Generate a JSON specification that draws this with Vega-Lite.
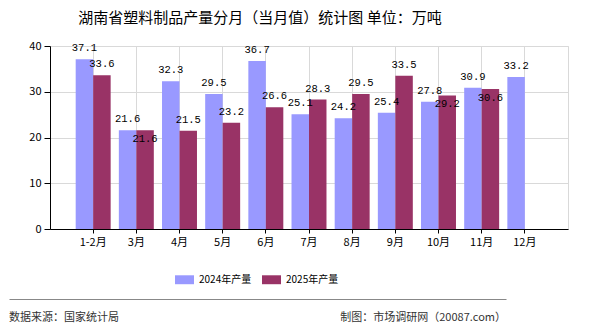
{
  "$schema": "https://vega.github.io/schema/vega-lite/v6.json",
  "background": "white",
  "padding": {"left": 9, "top": 10, "right": 0, "bottom": 0},
  "config": {"font": "Noto Sans CJK SC", "view": {"stroke": null}},
  "spacing": 51,
  "vconcat": [
    {
      "width": 518,
      "height": 183,
      "view": {"stroke": "#d9d9d9"},
      "title": {
        "text": "湖南省塑料制品产量分月（当月值）统计图 单位：万吨",
        "fontSize": 15,
        "fontWeight": "normal",
        "color": "black",
        "anchor": "middle",
        "frame": "group",
        "dx": -49,
        "offset": 14
      },
      "data": {
        "values": [
          {"month": "1-2月", "series": "2024年产量", "value": 37.1},
          {"month": "3月", "series": "2024年产量", "value": 21.6},
          {"month": "4月", "series": "2024年产量", "value": 32.3},
          {"month": "5月", "series": "2024年产量", "value": 29.5},
          {"month": "6月", "series": "2024年产量", "value": 36.7},
          {"month": "7月", "series": "2024年产量", "value": 25.1},
          {"month": "8月", "series": "2024年产量", "value": 24.2},
          {"month": "9月", "series": "2024年产量", "value": 25.4},
          {"month": "10月", "series": "2024年产量", "value": 27.8},
          {"month": "11月", "series": "2024年产量", "value": 30.9},
          {"month": "12月", "series": "2024年产量", "value": 33.2},
          {"month": "1-2月", "series": "2025年产量", "value": 33.6},
          {"month": "3月", "series": "2025年产量", "value": 21.6},
          {"month": "4月", "series": "2025年产量", "value": 21.5},
          {"month": "5月", "series": "2025年产量", "value": 23.2},
          {"month": "6月", "series": "2025年产量", "value": 26.6},
          {"month": "7月", "series": "2025年产量", "value": 28.3},
          {"month": "8月", "series": "2025年产量", "value": 29.5},
          {"month": "9月", "series": "2025年产量", "value": 33.5},
          {"month": "10月", "series": "2025年产量", "value": 29.2},
          {"month": "11月", "series": "2025年产量", "value": 30.6}
        ]
      },
      "encoding": {
        "x": {
          "field": "month",
          "type": "nominal",
          "sort": ["1-2月", "3月", "4月", "5月", "6月", "7月", "8月", "9月", "10月", "11月", "12月"],
          "scale": {"paddingInner": 0.19, "paddingOuter": 0.595},
          "axis": {
            "title": null,
            "labelAngle": 0,
            "labelFontSize": 11,
            "labelColor": "black",
            "labelPadding": 3,
            "tickColor": "black",
            "tickSize": 4,
            "domainColor": "black",
            "grid": true,
            "gridColor": "#d9d9d9"
          }
        },
        "xOffset": {"field": "series", "type": "nominal", "sort": ["2024年产量", "2025年产量"]},
        "y": {
          "field": "value",
          "type": "quantitative",
          "scale": {"domain": [0, 40]},
          "axis": {
            "title": null,
            "values": [0, 10, 20, 30, 40],
            "labelFontSize": 11,
            "labelColor": "black",
            "labelPadding": 3,
            "tickColor": "black",
            "tickSize": 6,
            "domainColor": "black",
            "grid": true,
            "gridColor": "#d9d9d9"
          }
        }
      },
      "layer": [
        {
          "mark": {"type": "bar"},
          "encoding": {
            "color": {
              "field": "series",
              "type": "nominal",
              "scale": {"domain": ["2024年产量", "2025年产量"], "range": ["#9999ff", "#993366"]},
              "legend": {
                "title": null,
                "orient": "none",
                "direction": "horizontal",
                "legendX": 125,
                "legendY": 224,
                "symbolType": "M-1,-0.47H1V0.47H-1Z",
                "symbolSize": 361,
                "symbolStrokeWidth": 0,
                "symbolOpacity": 1,
                "labelFontSize": 10,
                "labelColor": "black",
                "labelOffset": 5,
                "columnPadding": 10
              }
            }
          }
        },
        {
          "transform": [{"filter": "!(datum.series == '2025年产量' && indexof(['3月','10月','11月'], datum.month) >= 0)"}],
          "mark": {"type": "text", "baseline": "alphabetic", "dy": -8, "font": "Liberation Mono", "fontSize": 10.5, "color": "black"},
          "encoding": {"text": {"field": "value", "type": "quantitative", "format": ".1f"}}
        },
        {
          "transform": [{"filter": "datum.series == '2025年产量' && indexof(['3月','10月','11月'], datum.month) >= 0"}],
          "mark": {"type": "text", "baseline": "alphabetic", "dy": 12, "font": "Liberation Mono", "fontSize": 10.5, "color": "black"},
          "encoding": {"text": {"field": "value", "type": "quantitative", "format": ".1f"}}
        }
      ]
    },
    {
      "width": 456,
      "height": 30,
      "data": {
        "values": [
          {"side": "left", "text": "数据来源：国家统计局"},
          {"side": "right", "text": "制图：市场调研网（20087.com）"}
        ]
      },
      "encoding": {
        "x": {
          "field": "side",
          "type": "nominal",
          "scale": {"type": "point", "domain": ["left", "right"], "range": [-41, 456], "padding": 0},
          "axis": {"orient": "top", "title": null, "labels": false, "ticks": false, "grid": false, "domain": true, "domainColor": "#888888", "domainWidth": 1.2}
        },
        "text": {"field": "text", "type": "nominal"}
      },
      "layer": [
        {
          "transform": [{"filter": "datum.side == 'left'"}],
          "mark": {"type": "text", "align": "left", "baseline": "middle", "dy": 4, "fontSize": 11, "color": "#333333"}
        },
        {
          "transform": [{"filter": "datum.side == 'right'"}],
          "mark": {"type": "text", "align": "right", "baseline": "middle", "dy": 4, "fontSize": 11, "color": "#333333"}
        }
      ]
    }
  ]
}
